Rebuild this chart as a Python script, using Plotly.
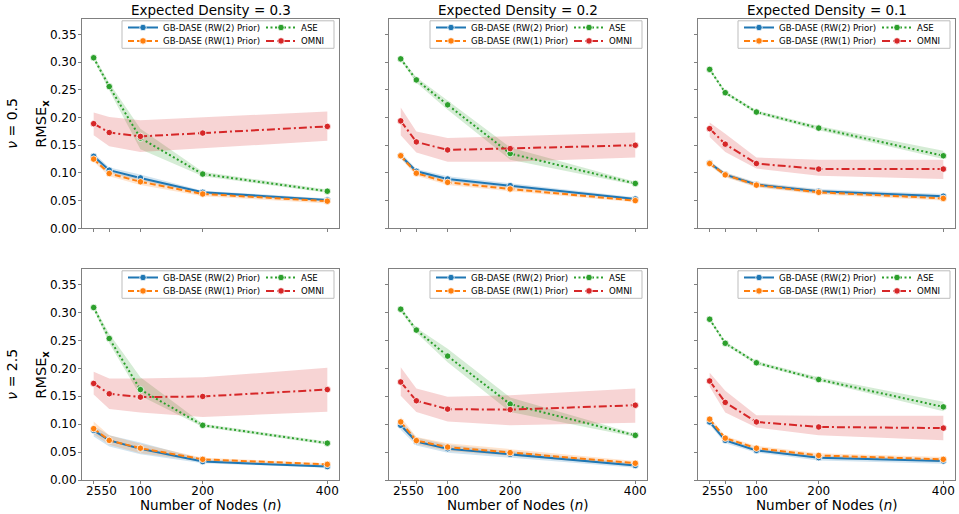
import plotly.graph_objects as go

W, H_REF = 959, 514
H_FIG = 521  # rendered page is squeezed to 514 px tall; figure fills it
SY = H_FIG / H_REF

n_nodes = [25, 50, 100, 200, 400]
x_tick_labels = ["25", "50", "100", "200", "400"]
y_tick_vals = [0.00, 0.05, 0.10, 0.15, 0.20, 0.25, 0.30, 0.35]
densities = ["0.3", "0.2", "0.1"]
nus = ["0.5", "2.5"]
method_names = ["GB-DASE (RW(2) Prior)", "GB-DASE (RW(1) Prior)", "ASE", "OMNI"]

# nu = 0.5, density 0.3
rw2_05_03 = [0.130, 0.105, 0.091, 0.065, 0.051]
rw2_05_03_lo = [0.125, 0.100, 0.086, 0.062, 0.048]
rw2_05_03_hi = [0.136, 0.110, 0.097, 0.068, 0.054]
rw1_05_03 = [0.125, 0.099, 0.084, 0.062, 0.049]
rw1_05_03_lo = [0.120, 0.094, 0.078, 0.058, 0.045]
rw1_05_03_hi = [0.129, 0.103, 0.089, 0.065, 0.052]
ase_05_03 = [0.308, 0.256, 0.163, 0.098, 0.067]
ase_05_03_lo = [0.304, 0.249, 0.143, 0.094, 0.064]
ase_05_03_hi = [0.312, 0.263, 0.180, 0.102, 0.070]
omni_05_03 = [0.189, 0.173, 0.166, 0.172, 0.184]
omni_05_03_lo = [0.168, 0.148, 0.138, 0.145, 0.158]
omni_05_03_hi = [0.209, 0.201, 0.195, 0.200, 0.211]

# nu = 0.5, density 0.2
rw2_05_02 = [0.131, 0.103, 0.089, 0.077, 0.053]
rw2_05_02_lo = [0.126, 0.098, 0.085, 0.073, 0.050]
rw2_05_02_hi = [0.137, 0.107, 0.094, 0.081, 0.056]
rw1_05_02 = [0.131, 0.0995, 0.083, 0.071, 0.050]
rw1_05_02_lo = [0.126, 0.095, 0.078, 0.067, 0.047]
rw1_05_02_hi = [0.135, 0.104, 0.087, 0.075, 0.053]
ase_05_02 = [0.306, 0.268, 0.223, 0.135, 0.081]
ase_05_02_lo = [0.303, 0.263, 0.214, 0.124, 0.078]
ase_05_02_hi = [0.309, 0.273, 0.231, 0.146, 0.084]
omni_05_02 = [0.194, 0.156, 0.1415, 0.144, 0.150]
omni_05_02_lo = [0.168, 0.137, 0.120, 0.120, 0.128]
omni_05_02_hi = [0.218, 0.175, 0.163, 0.166, 0.173]

# nu = 0.5, density 0.1
rw2_05_01 = [0.118, 0.097, 0.079, 0.067, 0.058]
rw2_05_01_lo = [0.114, 0.093, 0.075, 0.063, 0.054]
rw2_05_01_hi = [0.122, 0.101, 0.083, 0.071, 0.062]
rw1_05_01 = [0.117, 0.0965, 0.078, 0.065, 0.054]
rw1_05_01_lo = [0.113, 0.092, 0.074, 0.061, 0.050]
rw1_05_01_hi = [0.121, 0.101, 0.082, 0.069, 0.058]
ase_05_01 = [0.287, 0.245, 0.210, 0.181, 0.131]
ase_05_01_lo = [0.284, 0.242, 0.207, 0.177, 0.125]
ase_05_01_hi = [0.290, 0.248, 0.213, 0.185, 0.140]
omni_05_01 = [0.180, 0.152, 0.117, 0.107, 0.107]
omni_05_01_lo = [0.165, 0.138, 0.108, 0.095, 0.089]
omni_05_01_hi = [0.191, 0.171, 0.128, 0.124, 0.124]

# nu = 2.5, density 0.3
rw2_25_03 = [0.089, 0.071, 0.056, 0.033, 0.024]
rw2_25_03_lo = [0.078, 0.060, 0.046, 0.030, 0.022]
rw2_25_03_hi = [0.097, 0.080, 0.067, 0.037, 0.027]
rw1_25_03 = [0.092, 0.071, 0.057, 0.037, 0.028]
rw1_25_03_lo = [0.082, 0.063, 0.048, 0.033, 0.026]
rw1_25_03_hi = [0.105, 0.080, 0.065, 0.040, 0.030]
ase_25_03 = [0.309, 0.2535, 0.162, 0.098, 0.066]
ase_25_03_lo = [0.305, 0.245, 0.151, 0.095, 0.063]
ase_25_03_hi = [0.313, 0.262, 0.184, 0.101, 0.069]
omni_25_03 = [0.173, 0.1545, 0.1485, 0.1497, 0.162]
omni_25_03_lo = [0.153, 0.127, 0.121, 0.113, 0.1225]
omni_25_03_hi = [0.194, 0.182, 0.182, 0.184, 0.201]

# nu = 2.5, density 0.2
rw2_25_02 = [0.098, 0.069, 0.056, 0.046, 0.026]
rw2_25_02_lo = [0.090, 0.062, 0.049, 0.040, 0.022]
rw2_25_02_hi = [0.106, 0.076, 0.063, 0.052, 0.030]
rw1_25_02 = [0.104, 0.0706, 0.059, 0.049, 0.030]
rw1_25_02_lo = [0.096, 0.064, 0.052, 0.043, 0.026]
rw1_25_02_hi = [0.113, 0.077, 0.066, 0.055, 0.034]
ase_25_02 = [0.306, 0.2686, 0.222, 0.136, 0.080]
ase_25_02_lo = [0.302, 0.264, 0.211, 0.122, 0.077]
ase_25_02_hi = [0.310, 0.273, 0.235, 0.148, 0.083]
omni_25_02 = [0.1756, 0.142, 0.127, 0.126, 0.134]
omni_25_02_lo = [0.151, 0.122, 0.105, 0.098, 0.1026]
omni_25_02_hi = [0.202, 0.164, 0.149, 0.152, 0.164]

# nu = 2.5, density 0.1
rw2_25_01 = [0.104, 0.071, 0.053, 0.040, 0.034]
rw2_25_01_lo = [0.099, 0.066, 0.049, 0.035, 0.029]
rw2_25_01_hi = [0.108, 0.075, 0.057, 0.044, 0.038]
rw1_25_01 = [0.109, 0.075, 0.057, 0.044, 0.037]
rw1_25_01_lo = [0.105, 0.071, 0.053, 0.040, 0.033]
rw1_25_01_hi = [0.113, 0.079, 0.061, 0.048, 0.041]
ase_25_01 = [0.288, 0.245, 0.210, 0.180, 0.131]
ase_25_01_lo = [0.285, 0.242, 0.207, 0.177, 0.123]
ase_25_01_hi = [0.291, 0.248, 0.213, 0.184, 0.140]
omni_25_01 = [0.1774, 0.139, 0.104, 0.095, 0.093]
omni_25_01_lo = [0.167, 0.121, 0.094, 0.080, 0.071]
omni_25_01_hi = [0.192, 0.160, 0.116, 0.115, 0.115]

panels = [
    [(rw2_05_03, rw2_05_03_lo, rw2_05_03_hi), (rw1_05_03, rw1_05_03_lo, rw1_05_03_hi),
     (ase_05_03, ase_05_03_lo, ase_05_03_hi), (omni_05_03, omni_05_03_lo, omni_05_03_hi)],
    [(rw2_05_02, rw2_05_02_lo, rw2_05_02_hi), (rw1_05_02, rw1_05_02_lo, rw1_05_02_hi),
     (ase_05_02, ase_05_02_lo, ase_05_02_hi), (omni_05_02, omni_05_02_lo, omni_05_02_hi)],
    [(rw2_05_01, rw2_05_01_lo, rw2_05_01_hi), (rw1_05_01, rw1_05_01_lo, rw1_05_01_hi),
     (ase_05_01, ase_05_01_lo, ase_05_01_hi), (omni_05_01, omni_05_01_lo, omni_05_01_hi)],
    [(rw2_25_03, rw2_25_03_lo, rw2_25_03_hi), (rw1_25_03, rw1_25_03_lo, rw1_25_03_hi),
     (ase_25_03, ase_25_03_lo, ase_25_03_hi), (omni_25_03, omni_25_03_lo, omni_25_03_hi)],
    [(rw2_25_02, rw2_25_02_lo, rw2_25_02_hi), (rw1_25_02, rw1_25_02_lo, rw1_25_02_hi),
     (ase_25_02, ase_25_02_lo, ase_25_02_hi), (omni_25_02, omni_25_02_lo, omni_25_02_hi)],
    [(rw2_25_01, rw2_25_01_lo, rw2_25_01_hi), (rw1_25_01, rw1_25_01_lo, rw1_25_01_hi),
     (ase_25_01, ase_25_01_lo, ase_25_01_hi), (omni_25_01, omni_25_01_lo, omni_25_01_hi)],
]

# ---- styling ----
FONT = "DejaVu Sans"
colors = ["#1f77b4", "#ff7f0e", "#2ca02c", "#d62728"]
bands = ["rgba(31,119,180,0.2)", "rgba(255,127,14,0.2)", "rgba(44,160,44,0.2)", "rgba(214,39,40,0.2)"]
dashes = ["solid", "6px,3px", "2px,2.5px", "8px,3px,2px,3px"]
SPINE = "#808080"

col_px = [(82, 339), (389, 647), (698, 955)]
row_px = [(19.3, 228.3), (269.3, 480.0)]

def px_x(p):
    return p / W

def px_y(p):
    # p is a position in reference pixels (from top of a 514 px tall picture)
    return 1 - p / H_REF

fig = go.Figure()
layout = dict(
    width=W, height=H_FIG, autosize=False,
    margin=dict(l=0, r=0, t=0, b=0),
    paper_bgcolor="white", plot_bgcolor="white",
    font=dict(family=FONT, color="black"),
    showlegend=True,
)
shapes = []
annotations = []

for idx, series in enumerate(panels):
    r, c = divmod(idx, 3)
    ax = "" if idx == 0 else str(idx + 1)
    xa, ya = "x" + ax, "y" + ax
    L, R = col_px[c]
    T, B = row_px[r]

    box_r = R - 5
    box_l = R - 217
    col_x = [box_l + 1, R - 78]
    row_c = [T + 8.0, T + 21.4]

    for m, (mean, lo, hi) in enumerate(series):
        fig.add_trace(go.Scatter(
            x=n_nodes + n_nodes[::-1], y=hi + lo[::-1],
            fill="toself", fillcolor=bands[m], line=dict(width=0),
            mode="lines", showlegend=False, hoverinfo="skip",
            xaxis=xa, yaxis=ya,
        ))
    for m, (mean, lo, hi) in enumerate(series):
        k = 4 * idx + m + 1
        leg = "legend" if k == 1 else "legend%d" % k
        fig.add_trace(go.Scatter(
            x=n_nodes, y=mean, mode="lines+markers", name=method_names[m],
            line=dict(color=colors[m], width=2, dash=dashes[m]),
            marker=dict(color=colors[m], size=6.5, line=dict(color="white", width=0.8)),
            xaxis=xa, yaxis=ya, legend=leg,
        ))
        lx = col_x[0] if m < 2 else col_x[1]
        top_fig_px = row_c[m % 2] * SY - 14.5
        layout[leg] = dict(
            x=px_x(lx), y=1 - top_fig_px / H_FIG, xanchor="left", yanchor="top",
            xref="paper", yref="paper", orientation="v",
            bgcolor="rgba(0,0,0,0)", borderwidth=0, itemwidth=30,
            font=dict(size=8.6, family=FONT, color="black"),
        )

    layout["xaxis" + ax] = dict(
        domain=[px_x(L), px_x(R)], anchor=ya, range=[6.25, 418.75],
        tickmode="array", tickvals=n_nodes, ticktext=x_tick_labels, tickangle=0,
        showticklabels=(r == 1), ticks="outside", ticklen=3, tickwidth=1, tickcolor=SPINE,
        ticklabelstandoff=-3,
        showline=True, mirror=True, linecolor=SPINE, linewidth=1,
        showgrid=False, zeroline=False,
        tickfont=dict(size=12, family=FONT, color="black"),
    )
    layout["yaxis" + ax] = dict(
        domain=[px_y(B), px_y(T)], anchor=xa, range=[0, 0.3775],
        tickmode="array", tickvals=y_tick_vals, tickformat=".2f",
        showticklabels=(c == 0), ticks="outside", ticklen=3, tickwidth=1, tickcolor=SPINE,
        ticklabelstandoff=-1,
        showline=True, mirror=True, linecolor=SPINE, linewidth=1,
        showgrid=False, zeroline=False,
        tickfont=dict(size=12, family=FONT, color="black"),
    )

    shapes.append(dict(
        type="rect", xref="paper", yref="paper", layer="above",
        x0=px_x(box_l), x1=px_x(box_r), y0=px_y(T + 1.5), y1=px_y(T + 29.0),
        fillcolor="rgba(255,255,255,0.8)", line=dict(color="#bdbdbd", width=1),
    ))

    if r == 0:
        annotations.append(dict(
            text="Expected Density = " + densities[c], x=px_x((L + R) / 2), y=px_y(10),
            xref="paper", yref="paper", showarrow=False, xanchor="center", yanchor="middle",
            font=dict(size=13.5, family=FONT, color="black"),
        ))
    else:
        annotations.append(dict(
            text="Number of Nodes (<i>n</i>)", x=px_x((L + R) / 2), y=px_y(504.5),
            xref="paper", yref="paper", showarrow=False, xanchor="center", yanchor="middle",
            font=dict(size=13.5, family=FONT, color="black"),
        ))
    if c == 0:
        mid = (T + B) / 2
        annotations.append(dict(
            text="RMSE<sub><b>x</b></sub>", x=px_x(42), y=px_y(mid),
            xref="paper", yref="paper", showarrow=False, xanchor="center", yanchor="middle",
            textangle=-90, font=dict(size=14.5, family=FONT, color="black"),
        ))
        annotations.append(dict(
            text="<i>ν</i> = " + nus[r], x=px_x(12), y=px_y(mid),
            xref="paper", yref="paper", showarrow=False, xanchor="center", yanchor="middle",
            textangle=-90, font=dict(size=14, family=FONT, color="black"),
        ))

layout["shapes"] = shapes
layout["annotations"] = annotations
fig.update_layout(**layout)

page_css = (
    "var s=document.createElement('style');"
    "s.innerHTML='html,body{margin:0;padding:0;overflow:hidden;}"
    ".plotly-graph-div{display:block;}';"
    "document.head.appendChild(s);"
)
fig.write_html(
    "out.html",
    config={"displayModeBar": False},
    post_script=page_css,
)
